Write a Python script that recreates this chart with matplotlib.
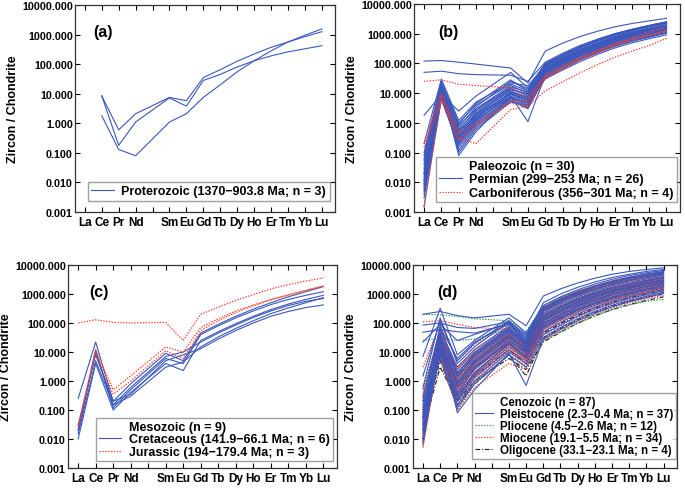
import numpy as np
import matplotlib
matplotlib.use("Agg")
import matplotlib.pyplot as plt
from matplotlib.lines import Line2D
from matplotlib.ticker import FixedLocator, FuncFormatter, NullLocator

plt.rcParams['font.family'] = ['Liberation Sans', 'DejaVu Sans']
plt.rcParams['font.weight'] = 'bold'

elements = ['La', 'Ce', 'Pr', 'Nd', 'Sm', 'Eu', 'Gd', 'Tb', 'Dy', 'Ho', 'Er', 'Tm', 'Yb', 'Lu']
xpos = [1, 2, 3, 4, 6, 7, 8, 9, 10, 11, 12, 13, 14, 15]
yticks = [0.001, 0.01, 0.1, 1, 10, 100, 1000, 10000]
nan = np.nan

# ---- (a) Proterozoic ----
proterozoic = [
    [nan, 8.5, 0.6, 2.1, 7.5, 5.8, 35, 65, 125, 220, 370, 560, 850, 1250],
    [nan, 8.5, 0.18, 1.1, 7.2, 3.8, 28, 45, 80, 130, 190, 260, 330, 420],
    [nan, 1.8, 0.13, 0.08, 1.1, 2.1, 7.5, 20, 55, 130, 280, 560, 950, 1550],
]

# ---- (b) Paleozoic ----
permian = [
    [120, 125, 110, 95, 70, 22, 260, 480, 800, 1200, 1700, 2200, 2700, 3300],
    [50, 55, 45, 42, 40, 25, 110, 220, 400, 650, 1000, 1400, 1900, 2500],
    [1.8, 9, 2.5, 8, 50, 15, 95, 190, 350, 580, 900, 1300, 1750, 2300],
    [0.1, 25, 1.0, 4, 20, 12, 90, 180, 330, 560, 880, 1250, 1700, 2200],
    [0.05, 15, 0.8, 3, 18, 10, 80, 160, 300, 500, 800, 1150, 1550, 2000],
    [0.012, 12, 0.6, 2.5, 15, 8, 70, 140, 270, 460, 740, 1050, 1450, 1900],
    [0.008, 10, 0.5, 2.0, 12, 7, 65, 130, 250, 420, 680, 980, 1350, 1800],
    [0.006, 18, 0.4, 1.8, 10, 6, 60, 120, 230, 390, 630, 920, 1250, 1650],
    [0.02, 14, 0.35, 1.5, 9, 5, 55, 110, 210, 360, 580, 850, 1150, 1550],
    [0.03, 11, 0.3, 1.3, 8, 4.5, 50, 100, 190, 330, 540, 800, 1100, 1450],
    [0.015, 9, 0.25, 1.2, 7.5, 4, 45, 92, 175, 300, 500, 740, 1020, 1350],
    [0.004, 8, 0.2, 1.0, 7, 3.5, 42, 85, 160, 280, 460, 690, 950, 1300],
    [0.0015, 7, 0.15, 0.8, 6, 3.2, 38, 78, 150, 260, 430, 640, 880, 1200],
    [0.01, 20, 0.12, 0.7, 5.5, 3, 35, 72, 140, 240, 400, 590, 820, 1100],
    [0.025, 13, 0.1, 0.6, 5, 4, 32, 66, 130, 225, 370, 550, 760, 1050],
    [0.007, 16, 0.08, 0.5, 8, 1.1, 40, 80, 150, 250, 400, 580, 800, 1080],
    [0.04, 22, 0.7, 3.5, 25, 14, 100, 200, 380, 630, 980, 1400, 1900, 2500],
    [0.2, 30, 1.2, 5, 22, 18, 85, 175, 340, 580, 920, 1350, 1850, 2450],
    [0.009, 9.5, 0.45, 2.2, 14, 9, 75, 150, 285, 480, 770, 1100, 1500, 2000],
    [0.005, 12.5, 0.28, 1.4, 11, 6.5, 58, 118, 225, 385, 620, 910, 1250, 1700],
    [0.018, 10.5, 0.22, 1.1, 9.5, 5.5, 52, 105, 200, 345, 560, 820, 1130, 1520],
    [0.06, 17, 0.55, 2.8, 16, 11, 68, 136, 260, 440, 710, 1030, 1420, 1880],
    [0.003, 6, 0.18, 0.9, 6.5, 4.8, 30, 60, 115, 200, 330, 490, 680, 920],
    [0.012, 8.5, 0.32, 1.6, 10.5, 7.5, 48, 96, 182, 310, 505, 745, 1030, 1400],
    [0.08, 19, 0.9, 4.5, 28, 12, 88, 178, 335, 560, 880, 1280, 1760, 2350],
    [0.02, 11, 0.38, 1.9, 13, 9.5, 62, 125, 240, 410, 660, 960, 1320, 1760],
]
carboniferous = [
    [25, 28, 20, 18, 15, 7, 40, 80, 150, 260, 420, 620, 880, 1200],
    [0.0015, 8, 0.3, 0.2, 2.8, 3.5, 12, 24, 48, 90, 160, 260, 400, 700],
    [0.2, 10, 0.45, 1.0, 4.5, 4, 30, 65, 130, 230, 390, 600, 900, 1300],
    [0.15, 6, 0.25, 0.8, 5.5, 5.5, 35, 75, 150, 270, 460, 730, 1100, 1800],
]

# ---- (c) Mesozoic ----
cretaceous = [
    [0.25, 22, 0.2, 0.8, 9, 5, 45, 90, 170, 300, 500, 800, 1200, 1800],
    [0.02, 12, 0.12, 0.5, 6, 4, 40, 80, 150, 260, 430, 650, 900, 1200],
    [0.01, 4, 0.1, 0.4, 4, 2.3, 25, 50, 95, 170, 290, 450, 650, 900],
    [0.015, 5, 0.15, 0.3, 3, 4.5, 15, 33, 65, 120, 210, 330, 500, 750],
    [0.03, 8, 0.2, 0.35, 5, 8, 13, 28, 55, 100, 170, 250, 340, 420],
    [0.02, 10, 0.15, 0.6, 7, 10, 22, 45, 85, 155, 260, 400, 560, 700],
]
jurassic = [
    [100, 130, 105, 100, 105, 25, 200, 350, 600, 950, 1500, 2100, 2800, 3600],
    [0.03, 12, 0.5, 1.5, 15, 10, 70, 140, 260, 420, 650, 950, 1350, 1900],
    [0.025, 10, 0.35, 1.0, 11, 6, 55, 120, 230, 390, 620, 900, 1300, 1850],
]

# ---- (d) Cenozoic ----
pleistocene = [
    [200, 250, 180, 150, 200, 80, 850, 1500, 2400, 3500, 4800, 6000, 7000, 8000],
    [85, 100, 70, 65, 110, 40, 350, 700, 1200, 1900, 2800, 3800, 4900, 6000],
    [48, 60, 50, 45, 90, 30, 300, 600, 1050, 1700, 2500, 3400, 4300, 5200],
    [22, 90, 25, 40, 100, 20, 280, 550, 950, 1500, 2200, 3000, 3900, 4800],
    [7, 320, 8, 25, 150, 45, 400, 800, 1400, 2200, 3200, 4300, 5400, 6500],
    [1.5, 120, 5, 20, 120, 35, 320, 640, 1100, 1750, 2600, 3500, 4500, 5500],
    [0.3, 60, 3, 12, 80, 25, 250, 500, 900, 1450, 2100, 2900, 3700, 4500],
    [0.15, 50, 2.5, 10, 70, 22, 220, 440, 800, 1300, 1900, 2600, 3300, 4000],
    [0.08, 40, 2, 8, 60, 20, 190, 380, 700, 1150, 1700, 2300, 3000, 3700],
    [0.05, 35, 1.6, 7, 50, 18, 170, 340, 620, 1000, 1500, 2100, 2700, 3400],
    [0.03, 30, 1.3, 6, 45, 16, 150, 300, 560, 920, 1400, 1900, 2500, 3100],
    [0.02, 25, 1.0, 5, 40, 14, 130, 265, 500, 820, 1250, 1700, 2250, 2800],
    [0.012, 22, 0.8, 4, 35, 12, 115, 235, 440, 730, 1120, 1550, 2050, 2600],
    [0.008, 20, 0.6, 3.5, 30, 10, 100, 205, 390, 650, 1000, 1400, 1850, 2400],
    [0.006, 18, 0.5, 3, 26, 9, 90, 185, 350, 580, 900, 1250, 1650, 2150],
    [0.01, 16, 0.4, 2.5, 22, 8, 80, 165, 310, 520, 800, 1120, 1500, 1950],
    [0.015, 14, 0.3, 2, 18, 7, 70, 145, 275, 460, 720, 1000, 1350, 1750],
    [0.04, 12, 0.25, 1.6, 15, 6, 60, 125, 240, 410, 640, 900, 1200, 1600],
    [0.1, 10, 0.2, 1.3, 12, 5, 50, 105, 205, 350, 560, 800, 1080, 1450],
    [0.2, 8, 0.15, 1.0, 10, 4, 40, 85, 170, 300, 480, 700, 950, 1300],
    [0.025, 7, 0.12, 0.8, 8, 3, 32, 70, 140, 250, 410, 600, 830, 1150],
    [0.05, 45, 0.08, 0.5, 9, 0.7, 28, 60, 120, 215, 360, 540, 750, 1050],
    [0.6, 150, 4, 15, 110, 30, 500, 1000, 1700, 2600, 3700, 4800, 6000, 7000],
    [0.12, 80, 1.8, 9, 65, 15, 260, 520, 950, 1500, 2250, 3050, 3900, 4800],
    [0.035, 28, 0.9, 5, 38, 11, 140, 280, 520, 860, 1300, 1800, 2400, 3000],
    [0.018, 24, 0.7, 4.5, 32, 13, 120, 240, 450, 750, 1150, 1600, 2100, 2700],
    [0.06, 17, 0.35, 2.8, 24, 10, 95, 195, 370, 620, 960, 1350, 1800, 2300],
    [0.009, 13, 0.22, 1.8, 20, 6.5, 75, 155, 295, 500, 780, 1100, 1470, 1900],
    [0.25, 70, 6, 22, 95, 28, 330, 660, 1180, 1850, 2700, 3650, 4650, 5700],
    [0.07, 38, 1.4, 7.5, 55, 19, 180, 360, 660, 1080, 1620, 2200, 2850, 3550],
]
pliocene = [
    [200, 190, 170, 140, 120, 50, 400, 750, 1250, 1850, 2500, 3100, 3600, 4000],
    [25, 30, 25, 28, 60, 25, 200, 400, 720, 1150, 1700, 2300, 2900, 3500],
    [0.5, 40, 2, 8, 50, 15, 180, 360, 640, 1000, 1450, 1950, 2450, 2900],
    [0.1, 25, 1.2, 6, 40, 12, 150, 300, 540, 860, 1250, 1680, 2100, 2500],
    [0.03, 18, 0.6, 4, 30, 10, 120, 240, 430, 700, 1020, 1380, 1750, 2100],
    [0.02, 12, 0.3, 2, 18, 6, 70, 140, 260, 430, 650, 900, 1150, 1400],
    [0.05, 8, 0.1, 0.8, 8, 3, 25, 50, 100, 180, 290, 420, 560, 650],
    [0.2, 20, 0.9, 5, 35, 14, 160, 320, 580, 930, 1360, 1850, 2350, 2800],
]
miocene = [
    [110, 120, 90, 70, 60, 25, 300, 600, 1050, 1650, 2400, 3200, 4000, 4800],
    [3, 100, 5, 18, 90, 30, 350, 700, 1250, 1950, 2850, 3800, 4700, 5500],
    [0.5, 60, 3, 12, 70, 20, 280, 560, 1000, 1600, 2300, 3100, 3900, 4600],
    [0.2, 45, 2, 9, 55, 18, 230, 460, 830, 1330, 1950, 2650, 3350, 4000],
    [0.08, 35, 1.5, 7, 45, 15, 190, 380, 690, 1110, 1640, 2230, 2850, 3450],
    [0.04, 28, 1.1, 5.5, 38, 13, 160, 320, 580, 940, 1400, 1900, 2450, 3000],
    [0.02, 22, 0.8, 4.2, 30, 11, 130, 265, 490, 800, 1200, 1650, 2150, 2650],
    [0.01, 18, 0.6, 3.2, 24, 9, 105, 215, 400, 660, 1000, 1400, 1850, 2300],
    [0.007, 14, 0.45, 2.5, 19, 7, 85, 175, 330, 550, 840, 1180, 1570, 2000],
    [0.015, 11, 0.3, 1.8, 15, 5.5, 65, 135, 260, 440, 680, 970, 1300, 1700],
    [0.03, 9, 0.2, 1.2, 11, 4.5, 50, 105, 205, 350, 550, 790, 1070, 1400],
    [0.06, 7, 0.15, 0.9, 8, 3.5, 38, 80, 160, 280, 450, 650, 880, 1150],
    [0.12, 6, 0.1, 0.6, 4, 2.5, 25, 55, 110, 200, 330, 490, 680, 900],
    [0.3, 50, 2.5, 10, 60, 16, 250, 500, 900, 1420, 2080, 2820, 3600, 4350],
    [0.025, 32, 1.3, 6, 42, 14, 175, 350, 635, 1020, 1510, 2060, 2650, 3200],
    [0.012, 20, 0.7, 3.8, 27, 10, 118, 240, 445, 730, 1100, 1520, 2000, 2480],
    [0.005, 16, 0.5, 2.8, 21, 8, 95, 195, 365, 605, 920, 1290, 1710, 2150],
    [0.05, 12, 0.35, 2, 17, 6, 75, 155, 295, 495, 760, 1080, 1440, 1850],
    [0.1, 8, 0.25, 1.5, 13, 5, 57, 120, 230, 390, 610, 870, 1170, 1520],
    [0.4, 25, 1.0, 5, 35, 12, 145, 290, 530, 860, 1290, 1780, 2300, 2800],
]
oligocene = [
    [0.03, 5, 0.15, 0.8, 8, 1.5, 30, 65, 130, 230, 380, 560, 770, 1000],
    [0.01, 10, 0.3, 1.5, 12, 4, 45, 95, 185, 320, 510, 740, 1000, 1300],
    [0.05, 25, 0.6, 3, 20, 7, 70, 145, 275, 460, 720, 1020, 1370, 1750],
    [0.02, 3, 0.2, 1, 6, 2.5, 22, 48, 98, 175, 290, 430, 600, 800],
]

BLUE = '#3a57bd'
RED = '#ff3a2a'
GREEN = '#1f9a55'
BLACK = '#222222'

styles = {
    'blue': dict(color=BLUE, ls='-', lw=0.8),
    'red': dict(color=RED, ls=(0, (1.2, 1.2)), lw=0.85),
    'green': dict(color=GREEN, ls=(0, (1.2, 1.2)), lw=0.85),
    'black': dict(color=BLACK, ls=(0, (4, 1.5, 1, 1.5)), lw=0.85),
}

fig = plt.figure(figsize=(6.85, 4.89), dpi=100)


def make_axes(rect):
    ax = fig.add_axes(rect)
    ax.set_yscale('log')
    ax.set_ylim(0.001, 10000)
    ax.set_xlim(0.42, 15.78)
    ax.xaxis.set_major_locator(FixedLocator(list(range(1, 16))))
    ax.xaxis.set_minor_locator(NullLocator())
    lbls = {p: e for p, e in zip(xpos, elements)}
    ax.set_xticklabels([lbls.get(i, '') for i in range(1, 16)])
    ax.yaxis.set_major_locator(FixedLocator(yticks))
    ax.yaxis.set_minor_locator(NullLocator())
    ax.yaxis.set_major_formatter(FuncFormatter(lambda v, p: f'{v:.3f}'))
    ax.tick_params(direction='in', top=True, right=True, length=3.5, width=0.8)
    ax.tick_params(axis='y', labelsize=7.7, pad=1.5)
    ax.tick_params(axis='x', labelsize=8.5, pad=3)
    for lab in ax.get_xticklabels() + ax.get_yticklabels():
        lab.set_fontweight('bold')
    for s in ax.spines.values():
        s.set_linewidth(0.9)
        s.set_color('#333333')
    ax.set_ylabel('Zircon / Chondrite', fontsize=9, fontweight='bold', labelpad=2)
    return ax


def draw(ax, rows, style):
    for r in rows:
        ax.plot(xpos, r, **styles[style])


def draw_mixed(ax, groups):
    n = max(len(rows) for rows, _ in groups)
    for i in range(n):
        for rows, st in groups:
            if i < len(rows):
                ax.plot(xpos, rows[i], **styles[st])


def legend(ax, title, entries, anchor, fs, hl=1.8, ls=0.15, bp=0.3):
    handles = []
    labels = []
    if title:
        handles.append(Line2D([], [], color='none'))
        labels.append(title)
    for lab, st in entries:
        handles.append(Line2D([], [], **styles[st]))
        labels.append(lab)
    leg = ax.legend(handles, labels, loc='lower right', bbox_to_anchor=anchor,
                    borderaxespad=0, frameon=True, fancybox=False,
                    prop={'size': fs, 'weight': 'bold'}, handlelength=hl,
                    handletextpad=0.6, labelspacing=ls, borderpad=bp)
    leg.get_frame().set_edgecolor('#888888')
    leg.get_frame().set_linewidth(1.0)
    return leg


H = 1 / 489.0
W = 1 / 685.0

# (a)
axa = make_axes([75 * W, 1 - 213 * H, 260 * W, 207 * H])
draw(axa, proterozoic, 'blue')
axa.text(0.07, 0.87, '(a)', transform=axa.transAxes, fontsize=11.5, fontweight='bold', va='center')
legend(axa, None, [('Proterozoic (1370\u2212903.8 Ma; n = 3)', 'blue')], (0.98, 0.053), 9)

# (b)
axb = make_axes([414 * W, 1 - 213 * H, 266 * W, 208 * H])
draw(axb, permian, 'blue')
draw(axb, carboniferous, 'red')
axb.text(0.09, 0.87, '(b)', transform=axb.transAxes, fontsize=11.5, fontweight='bold', va='center')
legend(axb, 'Paleozoic (n = 30)', [('Permian (299\u2212253 Ma; n = 26)', 'blue'),
                                     ('Carboniferous (356\u2212301 Ma; n = 4)', 'red')],
       (0.989, 0.048), 9, ls=0.12, bp=0.25)

# (c)
axc = make_axes([68 * W, 1 - 469 * H, 269 * W, 203 * H])
draw(axc, cretaceous, 'blue')
draw(axc, jurassic, 'red')
axc.text(0.08, 0.87, '(c)', transform=axc.transAxes, fontsize=11.5, fontweight='bold', va='center')
legend(axc, 'Mesozoic (n = 9)', [('Cretaceous (141.9\u221266.1 Ma; n = 6)', 'blue'),
                                   ('Jurassic (194\u2212179.4 Ma; n = 3)', 'red')],
       (0.985, 0.034), 9, ls=0.05, bp=0.25)

# (d)
axd = make_axes([413 * W, 1 - 469 * H, 264 * W, 203 * H])
draw_mixed(axd, [(pleistocene, 'blue'), (miocene, 'red'), (pliocene, 'green'),
                 (oligocene, 'black')])
axd.text(0.09, 0.87, '(d)', transform=axd.transAxes, fontsize=11.5, fontweight='bold', va='center')
legend(axd, 'Cenozoic (n = 87)', [('Pleistocene (2.3\u22120.4 Ma; n = 37)', 'blue'),
                                    ('Pliocene (4.5\u22122.6 Ma; n = 12)', 'green'),
                                    ('Miocene (19.1\u22125.5 Ma; n = 34)', 'red'),
                                    ('Oligocene (33.1\u221223.1 Ma; n = 4)', 'black')],
       (0.998, 0.044), 8.3, hl=1.6, ls=0.0, bp=0.25)

fig.savefig('out.png', dpi=100)
